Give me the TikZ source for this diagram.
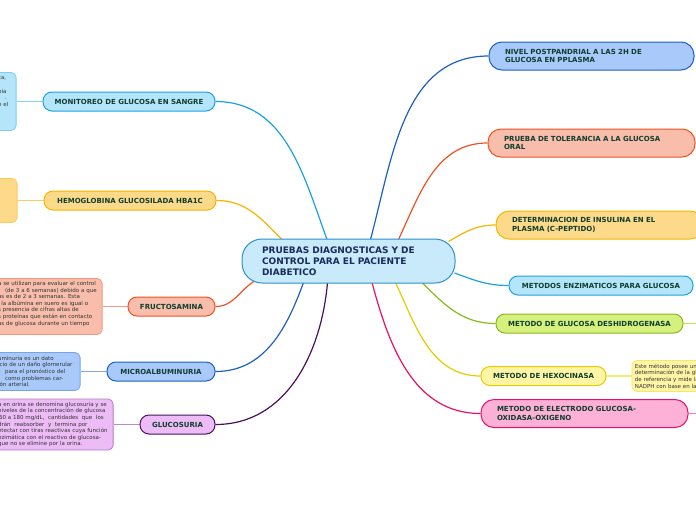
\documentclass[tikz,border=0pt]{standalone}
\usepackage{fontspec}
\setmainfont{DejaVu Sans}
\usetikzlibrary{positioning,backgrounds}
\definecolor{titlecol}{HTML}{0F3D2E}
\definecolor{maincol}{HTML}{1A2B5C}
\definecolor{notetext}{HTML}{333333}
\definecolor{rootfill}{HTML}{C8EAFB}  \definecolor{rootline}{HTML}{2A90D0}
\definecolor{cyanfill}{HTML}{B5E5FB}  \definecolor{cyanline}{HTML}{1BA1E2}
\definecolor{goldfill}{HTML}{FDD98A}  \definecolor{goldline}{HTML}{F6B400}
\definecolor{salmfill}{HTML}{F9BDAB}  \definecolor{salmline}{HTML}{EE5223}
\definecolor{bluefill}{HTML}{A8C9FA}  \definecolor{blueline}{HTML}{1E5FC4}
\definecolor{lilafill}{HTML}{EDBCF7}  \definecolor{lilaline}{HTML}{4B0F5C}
\definecolor{limefill}{HTML}{D5F07C}  \definecolor{limeline}{HTML}{8AB91E}
\definecolor{lemonfill}{HTML}{FFF5A5} \definecolor{lemonline}{HTML}{E5CC00}
\definecolor{pinkfill}{HTML}{FDB1D6}  \definecolor{pinkline}{HTML}{E8106B}
\tikzset{every picture/.style={line width=0.75pt}}
\tikzset{
  root/.style={draw=rootline, fill=rootfill, rounded corners=20pt, line width=1pt,
    minimum height=44pt, text width=173pt, inner xsep=20pt, align=left,
    font=\fontsize{9}{11}\selectfont\bfseries, text=maincol},
  topic/.style 2 args={draw=#1line, fill=#1fill, rounded corners=9pt, line width=1pt,
    minimum height=19pt, minimum width=#2, inner xsep=6pt, inner ysep=0pt,
    font=\fontsize{7}{8.5}\selectfont\bfseries, text=titlecol},
  twoline/.style 2 args={draw=#1line, fill=#1fill, rounded corners=13pt, line width=1pt,
    minimum height=28pt, text width=#2, inner xsep=16pt, inner ysep=0pt, align=left,
    font=\fontsize{7}{8.5}\selectfont\bfseries, text=titlecol},
  note/.style 2 args={draw=#1line!35!#1fill, fill=#1fill, rounded corners=5pt, line width=0.8pt,
    text width=#2, inner xsep=3pt, inner ysep=2pt, align=left,
    font=\fontsize{5.5}{6.6}\selectfont, text=notetext},
  link/.style={draw=#1, line width=1.2pt},
  notelink/.style={draw=#1line!30!#1fill, line width=1.2pt},
}
\begin{document}
\begin{tikzpicture}[x=1pt,y=1pt]
  \useasboundingbox (0,0) rectangle (696,-520);
  \clip (0,0) rectangle (696,-520);
  % central topic
  \node[root] (c) at (348.5,-261) {PRUEBAS DIAGNOSTICAS Y DE\\CONTROL PARA EL PACIENTE\\DIABETICO};
  % left branches
  \node[topic={cyan}{172pt}] (mon) at (129,-101.5) {MONITOREO DE GLUCOSA EN SANGRE};
  \node[topic={gold}{172pt}] (hemo) at (130,-200.5) {HEMOGLOBINA GLUCOSILADA HBA1C};
  \node[topic={salm}{87pt}] (fru) at (171.5,-306.5) {FRUCTOSAMINA};
  \node[topic={blue}{108pt}] (mic) at (161,-371.5) {MICROALBUMINURIA};
  \node[topic={lila}{75pt}] (glu) at (177.5,-424.5) {GLUCOSURIA};
  % right branches
  \node[twoline={blue}{173pt}] (niv) at (591.5,-56) {NIVEL POSTPANDRIAL A LAS 2H DE\\GLUCOSA EN PPLASMA};
  \node[twoline={salm}{175pt}] (pru) at (591.5,-143) {PRUEBA DE TOLERANCIA A LA GLUCOSA\\ORAL};
  \node[twoline={gold}{175pt}] (det) at (599.5,-225) {DETERMINACION DE INSULINA EN EL\\PLASMA (C-PEPTIDO)};
  \node[topic={cyan}{184pt}] (enz) at (601,-285.5) {METODOS ENZIMATICOS PARA GLUCOSA};
  \node[topic={lime}{187pt}] (desh) at (589.5,-323.5) {METODO DE GLUCOSA DESHIDROGENASA};
  \node[topic={lemon}{125pt}] (hexo) at (543.5,-376) {METODO DE HEXOCINASA};
  \node[twoline={pink}{175pt}] (elec) at (584.5,-413.5) {METODO DE ELECTRODO GLUCOSA-\\OXIDASA-OXIGENO};
  % notes
  \node[note={cyan}{15pt}, minimum height=58pt, left=26pt of mon] (monnote)
    {ca,\\\mbox{}\\bia\\\hspace*{7pt}.\\n el\\\mbox{}\\\mbox{}\\\mbox{}};
  \node[note={gold}{16pt}, minimum height=44pt, left=26pt of hemo] (hemonote) {};
  \node[note={salm}{101pt}, minimum height=56pt, left=25pt of fru] (frunote)
    {a se utilizan para evaluar el control\\
     \hspace*{7pt}(de 3 a 6 semanas) debido a que\\
     as es de 2 a 3 semanas. Esta\\
     l la albúmina en suero es igual o\\
     s presencia de cifras altas de\\
     s proteínas que están en contacto\\
     as de glucosa durante un tiempo\\\mbox{}};
  \node[note={blue}{79pt}, minimum height=38pt, left=26pt of mic] (micnote)
    {uminuria es un dato\\
     icio de un daño glomerular\\
     \hspace*{7pt}para el pronóstico del\\
     \hspace*{7pt}como problemas car-\\
     ión arterial.};
  \node[note={lila}{112pt}, minimum height=51pt, left=26pt of glu] (glunote)
    {a en orina se denomina glucosuria y se\\
     niveles de la concentración de glucosa\\
     \hspace*{1pt}60 a 180 mg/dL,\ \ cantidades\ \ que\ \ los\\
     drán\ \ reabsorber\ \ y\ \ termina por\\
     etectar con tiras reactivas cuya función\\
     nzimática con el reactivo de glucosa-\\
     que no se elimine por la orina.};
  \node[note={lemon}{120pt}, minimum height=31pt, right=25pt of hexo] (hexonote)
    {Este método posee un\\determinación de la gl\\de referencia y mide la\\NADPH con base en la};
  \coordinate (deshend) at (700,-323.5);
  \coordinate (elecend) at (700,-413.5);
  % connectors
  \begin{scope}[on background layer]
    \draw[link=cyanline] (mon.east) to[out=0,in=110] ([xshift=-21.5pt,yshift=-1pt]c.north);
    \draw[link=goldline] (hemo.east) to[out=0,in=135] ([xshift=-66.5pt,yshift=-1pt]c.north);
    \draw[link=salmline] (fru.east) to[out=0,in=210] ([xshift=-93pt,yshift=3pt]c.south);
    \draw[link=blueline] (mic.east) to[out=0,in=250] ([xshift=-45pt,yshift=1pt]c.south);
    \draw[link=lilaline] (glu.east) to[out=0,in=265] ([xshift=-21pt,yshift=1pt]c.south);
    \draw[link=blueline] (niv.west) to[out=180,in=75] ([xshift=22pt,yshift=-1pt]c.north);
    \draw[link=salmline] (pru.west) to[out=180,in=65] ([xshift=50pt,yshift=-1pt]c.north);
    \draw[link=goldline] (det.west) to[out=180,in=30] ([xshift=100pt,yshift=-3pt]c.north);
    \draw[link=cyanline] (enz.west) to[out=180,in=-20] ([xshift=-1pt,yshift=-12pt]c.east);
    \draw[link=limeline] (desh.west) to[out=180,in=-45] ([xshift=73.5pt,yshift=1pt]c.south);
    \draw[link=lemonline] (hexo.west) to[out=180,in=-65] ([xshift=47pt,yshift=1pt]c.south);
    \draw[link=pinkline] (elec.west) to[out=180,in=-75] ([xshift=23.5pt,yshift=1pt]c.south);
    \draw[notelink=cyan] (monnote) -- (mon);
    \draw[notelink=gold] (hemonote) -- (hemo);
    \draw[notelink=salm] (frunote) -- (fru);
    \draw[notelink=blue] (micnote) -- (mic);
    \draw[notelink=lila] (glunote) -- (glu);
    \draw[notelink=lemon] (hexo) -- (hexonote);
    \draw[notelink=lime] (desh) -- (deshend);
    \draw[notelink=pink] (elec) -- (elecend);
  \end{scope}
\end{tikzpicture}
\end{document}
